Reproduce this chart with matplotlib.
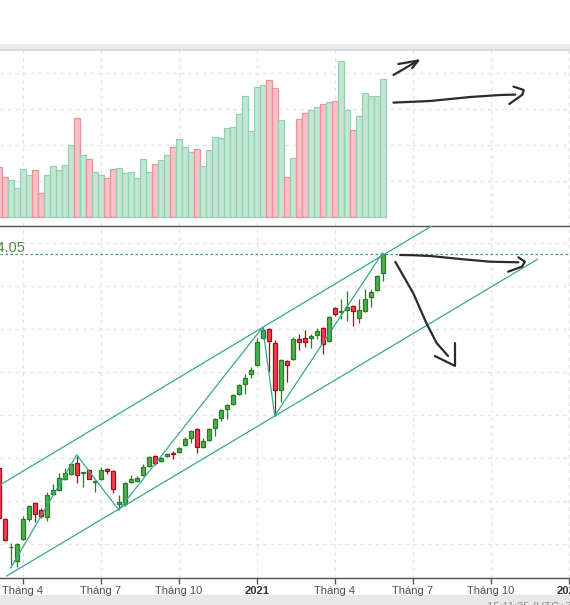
import numpy as np
import pandas as pd
import matplotlib.pyplot as plt
from matplotlib.patches import Rectangle
from matplotlib.transforms import blended_transform_factory

plt.rcParams['font.family'] = ['Liberation Sans', 'DejaVu Sans']


#%% data - weekly candles, the first one is only partly on screen
first_week = pd.Timestamp('2020-03-02')

opens = [826, 707, 641, 609, 660, 707, 744, 728, 712, 765,
         775, 800, 812, 837, 814, 821, 793, 800, 823, 819,
         742, 742, 793, 795, 809, 830, 853, 842, 853, 860,
         863, 879, 895, 916, 875, 891, 919, 942, 963, 974,
         998, 1021, 1044, 1065, 1128, 1149, 1116, 1007, 1075, 1079,
         1126, 1128, 1128, 1135, 1151, 1121, 1198, 1188, 1193, 1202,
         1174, 1191, 1223, 1240, 1279]
highs = [830, 709, 651, 651, 714, 740, 747, 733, 770, 788,
         814, 826, 837, 856, 816, 823, 797, 828, 826, 821,
         763, 793, 809, 807, 835, 853, 856, 851, 860, 865,
         874, 898, 914, 918, 895, 918, 942, 963, 974, 997,
         1021, 1044, 1060, 1128, 1153, 1151, 1123, 1079, 1077, 1130,
         1137, 1146, 1137, 1151, 1153, 1179, 1200, 1219, 1237, 1204,
         1219, 1242, 1242, 1274, 1326]
lows = [705, 656, 600, 595, 658, 702, 700, 709, 702, 763,
        773, 798, 810, 791, 781, 800, 770, 798, 812, 768,
        728, 737, 791, 793, 807, 828, 833, 840, 851, 847,
        861, 877, 884, 861, 872, 888, 900, 935, 939, 972,
        995, 998, 1035, 1063, 1125, 1049, 947, 979, 1026, 1077,
        1100, 1107, 1105, 1126, 1091, 1119, 1179, 1172, 1168, 1156,
        1163, 1188, 1200, 1237, 1261]
closes = [709, 658, 643, 649, 707, 737, 719, 714, 763, 775,
          802, 814, 835, 809, 816, 800, 795, 821, 819, 777,
          747, 791, 800, 802, 828, 851, 837, 849, 858, 858,
          872, 893, 912, 875, 888, 916, 940, 960, 972, 995,
          1019, 1035, 1053, 1119, 1147, 1121, 1007, 1077, 1065, 1126,
          1119, 1119, 1133, 1144, 1114, 1177, 1184, 1191, 1200, 1191,
          1193, 1219, 1235, 1272, 1324.05]
volumes = [250, 200, 185, 145, 240, 210, 235, 120, 210, 255,
           235, 260, 360, 495, 310, 290, 225, 210, 195, 240,
           245, 220, 225, 195, 290, 225, 265, 285, 310, 350,
           390, 350, 325, 340, 255, 335, 400, 395, 445, 450,
           515, 605, 430, 650, 660, 685, 645, 485, 200, 295,
           490, 520, 535, 550, 565, 575, 580, 780, 535, 435,
           505, 620, 605, 605, 690]

tick_dates = ['2020-04-01', '2020-07-01', '2020-10-01', '2021-01-01',
              '2021-04-01', '2021-07-01', '2021-10-01', '2022-01-01']
tick_labels = ['Tháng 4', 'Tháng 7', 'Tháng 10', '2021',
               'Tháng 4', 'Tháng 7', 'Tháng 10', '2022']

# drawn lines (week index, price)
zig_k = [1, 12, 19, 43, 45, 63]
zig_p = [593, 856, 728, 1153, 947, 1326]
upper_k = [-0.8, 71.1]
upper_p = [786, 1388]
lower_k = [0.33, 88.8]
lower_p = [574.5, 1311]

# hand drawn arrows
vol_strokes = [
    ([64.8, 68.9], [710, 782]),
    ([65.6, 68.9, 67.9], [765, 782, 744]),
    ([64.8, 70.9, 77.6, 82.6, 85.1], [572, 580, 600, 610, 612]),
    ([84.8, 86.5, 86.3, 84.1], [652, 635, 612, 565]),
]
price_strokes = [
    ([65.9, 68.0, 70.9, 76.4, 80.9, 85.6], [1321, 1320.5, 1318.6, 1311, 1305.4, 1304]),
    ([85.6, 86.7, 86.2, 83.9], [1315.6, 1305.4, 1293.8, 1282.1]),
    ([65.1, 68.1, 70.3, 72.0, 73.9], [1305, 1232, 1162, 1116, 1086]),
    ([71.7, 75.05, 75.05], [1086, 1063, 1116]),
]


#%% plot
o = np.array(opens, dtype=float)
h = np.array(highs, dtype=float)
l = np.array(lows, dtype=float)
c = np.array(closes, dtype=float)
x = np.arange(len(o)) - 1
up = c >= o

tick_pos = [(pd.Timestamp(d) - first_week).days // 7 - 1 for d in tick_dates]

W, H = 570.0, 605.0
fig = plt.figure(figsize=(W / 100, H / 100), dpi=100)
ax_v = fig.add_axes([0, (H - 226) / H, 1, 176 / H])
ax_p = fig.add_axes([0, (H - 578) / H, 1, 352 / H])

fig.add_artist(Rectangle((0, (H - 50) / H), 1, 6 / H, transform=fig.transFigure,
                         color='#e9ecef', zorder=0))
fig.add_artist(Rectangle((0, 0), 1, 10 / H, transform=fig.transFigure,
                         color='#e8e8e8', zorder=0))

grid_kw = dict(color='#e4e4e4', linestyle=(0, (3, 3)), linewidth=0.9)

# volume
ax_v.bar(x, volumes, width=1.0,
         color=np.where(up, '#c3e6d3', '#f8c2c6'),
         edgecolor=np.where(up, '#92d1b0', '#ee9099'), linewidth=0.9)
ax_v.set_xlim(-0.783, 94.217)
ax_v.set_ylim(-45, 835)
ax_v.set_xticks(tick_pos)
ax_v.set_yticks([180, 360, 540, 720])
ax_v.grid(True, **grid_kw)
ax_v.set_axisbelow(True)
ax_v.tick_params(left=False, labelleft=False, bottom=False, labelbottom=False)
for s in ['left', 'right', 'bottom']:
    ax_v.spines[s].set_visible(False)
ax_v.spines['top'].set_color('#d3d6da')
ax_v.spines['top'].set_linewidth(1.2)

for sx, sy in vol_strokes:
    ax_v.plot(sx, sy, color='#2b2b2b', lw=1.6, solid_capstyle='round',
              solid_joinstyle='round', zorder=6)

# candles
fill = np.where(up, '#4caf50', '#ec4152')
edge = np.where(up, '#2d7a24', '#a0101c')
ax_p.vlines(x, l, h, colors=edge, lw=0.9, zorder=3)
ax_p.bar(x, np.maximum(np.abs(c - o), 1.2), bottom=np.minimum(o, c), width=0.72,
         color=fill, edgecolor=edge, linewidth=0.9, zorder=4)

ax_p.plot(zig_k, zig_p, color='#35a895', lw=0.9, zorder=5)
ax_p.plot(upper_k, upper_p, color='#35a895', lw=0.9, zorder=5)
ax_p.plot(lower_k, lower_p, color='#35a895', lw=0.9, zorder=5)

ax_p.axhline(c[-1], color='#3e9d6e', lw=0.9, ls=(0, (2, 2)), zorder=2)
trans = blended_transform_factory(ax_p.transAxes, ax_p.transData)
ax_p.text(25.5 / W, c[-1] + 3, f'{closes[-1]:.2f}', transform=trans, ha='right',
          va='baseline', color='#4f8a3a', fontsize=10.5)

for sx, sy in price_strokes:
    ax_p.plot(sx, sy, color='#2b2b2b', lw=1.6, solid_capstyle='round',
              solid_joinstyle='round', zorder=6)

ax_p.set_xlim(-0.783, 94.217)
ax_p.set_ylim(569.8, 1388.4)
ax_p.set_xticks(tick_pos)
ax_p.set_xticklabels(tick_labels)
ax_p.set_yticks(np.arange(650, 1351, 100))
ax_p.grid(True, **grid_kw)
ax_p.set_axisbelow(True)
ax_p.tick_params(left=False, labelleft=False)
ax_p.tick_params(axis='x', length=4, width=1, color='#555555', labelsize=8,
                 labelcolor='#4d4d4d', pad=2)
for lab in ax_p.get_xticklabels():
    if not lab.get_text().startswith('Th'):
        lab.set_fontweight('bold')
        lab.set_color('#333333')
for s in ['left', 'right']:
    ax_p.spines[s].set_visible(False)
for s in ['top', 'bottom']:
    ax_p.spines[s].set_color('#505050')
    ax_p.spines[s].set_linewidth(1)

fig.text(487 / W, 1 - 601.5 / H, '15:11:35 (UTC+7)', va='top', ha='left',
         fontsize=8, color='#8a8d96')

fig.savefig('out.png', dpi=100)
